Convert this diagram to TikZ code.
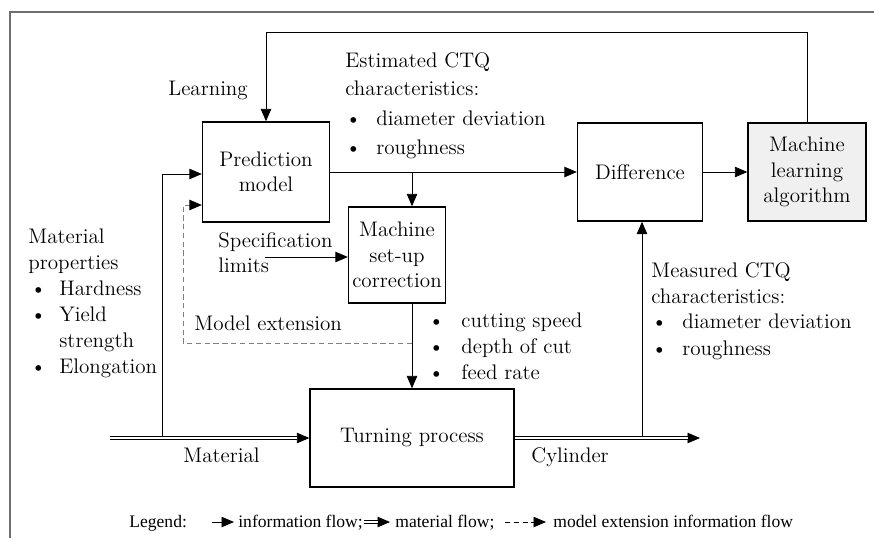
\documentclass[tikz,border=0pt]{standalone}
\usepackage{fontspec}
\usepackage{tikz}
\usetikzlibrary{positioning, arrows.meta}
\newfontfamily\legendfont{Liberation Serif}
\definecolor{FrameGray}{RGB}{110,110,110}
\definecolor{AlgoGray}{RGB}{240,240,240}

\begin{document}
\begin{tikzpicture}[x=0.02cm, y=-0.02cm, every node/.style={font=\fontsize{12}{14.5}\selectfont}]
  \tikzstyle{block} = [rectangle, draw, line width=0.8pt, align=center, inner sep=2pt]
  \tikzstyle{info} = [line width=0.5pt, -{Triangle[length=2.5mm, width=2.1mm]}]
  \tikzstyle{extension} = [line width=0.5pt, draw=gray, dash pattern=on 3pt off 2pt,
    -{Triangle[length=2.5mm, width=2.1mm, color=black]}]
  \tikzstyle{material} = [postaction={draw, info},
    postaction={draw, double, double distance=1.3pt, line width=0.5pt, shorten >=2.4mm}]
  \tikzstyle{txt} = [anchor=base west, inner sep=0pt]
  \tikzstyle{legendtxt} = [txt, font=\legendfont\fontsize{10}{12}\selectfont]

  \useasboundingbox (0,0) rectangle (874,538);
  \draw[FrameGray, line width=0.8pt] (10,538) -- (10,12) -- (874,12);

  % Bloques
  \node[block, minimum width=2.54cm, minimum height=2cm] (pred) at (266,172) {Prediction\\model};
  \node[block, minimum width=1.94cm, minimum height=1.92cm] (setup) at (397,255) {Machine\\set-up\\correction};
  \node[block, minimum width=2.5cm, minimum height=1.96cm] (diff) at (640,172) {Difference};
  \node[block, fill=AlgoGray, minimum width=2.36cm, minimum height=1.96cm] (algo) at (807,172) {Machine\\learning\\algorithm};
  \node[block, minimum width=4.08cm, minimum height=1.96cm] (turn) at (412,438) {Turning process};

  % Textos
  \node[txt] (learn) at (168,95) {Learning};
  \node[txt] (est1) at (345,67) {Estimated CTQ};
  \node[txt] (est2) at (345,95) {characteristics:};
  \foreach \entry [count=\i] in {diameter deviation, roughness} {
    \node[txt] (estdot\i) at (345,96+\i*29) {\textbullet};
    \node[txt] (estitem\i) at (376,96+\i*29) {\entry};
  }
  \node[txt] (mat1) at (28,243) {Material};
  \node[txt] (mat2) at (28,269) {properties};
  \foreach \entry/\y in {Hardness/295, Yield/321, Elongation/373} {
    \node[txt] (matdot\y) at (30,\y) {\textbullet};
    \node[txt] (matitem\y) at (59,\y) {\entry};
  }
  \node[txt] (mat3) at (59,347) {strength};
  \node[txt] (meas1) at (651,277) {Measured CTQ};
  \node[txt] (meas2) at (651,303) {characteristics:};
  \foreach \entry/\y in {diameter deviation/328, roughness/355} {
    \node[txt] (measdot\y) at (651,\y) {\textbullet};
    \node[txt] (measitem\y) at (682,\y) {\entry};
  }
  \foreach \entry [count=\i] in {cutting speed, depth of cut, feed rate} {
    \node[txt] (cutdot\i) at (428,301+\i*26) {\textbullet};
    \node[txt] (cutitem\i) at (461,301+\i*26) {\entry};
  }
  \node[txt] (spec1) at (218,247) {Specification};
  \node[txt] (spec2) at (218,272) {limits};
  \node[txt] (extlab) at (194,330) {Model extension};
  \node[txt] (matlab) at (183,462) {Material};
  \node[txt] (cyllab) at (531,462) {Cylinder};

  % Flechas
  \coordinate (top) at (0,32);
  \coordinate (spec) at (265,257);
  \coordinate (ext) at (412,343);
  \coordinate (extcorner) at (183,205);
  \coordinate (matin) at (110,438);
  \coordinate (matprop) at (162,438);
  \coordinate (cylout) at (700,438);
  \coordinate (measin) at (642,438);

  \draw[info] (algo.north) |- (pred.north |- top) -- (pred.north);
  \draw[info] (pred.east) -- (diff.west);
  \draw[info] (diff.east) -- (algo.west);
  \draw[info] (turn.north |- pred.east) -- (turn.north |- setup.north);
  \draw[info] (spec) -- (spec -| setup.west);
  \draw[info] (turn.north |- setup.south) -- (turn.north);
  \draw[extension] (ext) -| (extcorner) -- (extcorner -| pred.west);
  \draw[info] (matprop) |- ([yshift=-0.04cm]pred.west);
  \draw[info] (measin) -- (measin |- diff.south);
  \path[material] (matin) -- (turn.west);
  \path[material] (turn.east) -- (cylout);

  % Leyenda
  \node[legendtxt] (legend) at (129,527) {Legend:};
  \coordinate (leg1a) at (212,522);
  \coordinate (leg1b) at (234,522);
  \coordinate (leg2a) at (364,522);
  \coordinate (leg2b) at (390,522);
  \coordinate (leg3a) at (505,522);
  \coordinate (leg3b) at (546,522);
  \draw[info] (leg1a) -- (leg1b);
  \node[legendtxt] (leginfo) at (238,527) {information flow;};
  \path[material] (leg2a) -- (leg2b);
  \node[legendtxt] (legmat) at (395,527) {material flow;};
  \draw[extension, draw=black] (leg3a) -- (leg3b);
  \node[legendtxt] (legext) at (553,527) {model extension information flow};
\end{tikzpicture}
\end{document}
